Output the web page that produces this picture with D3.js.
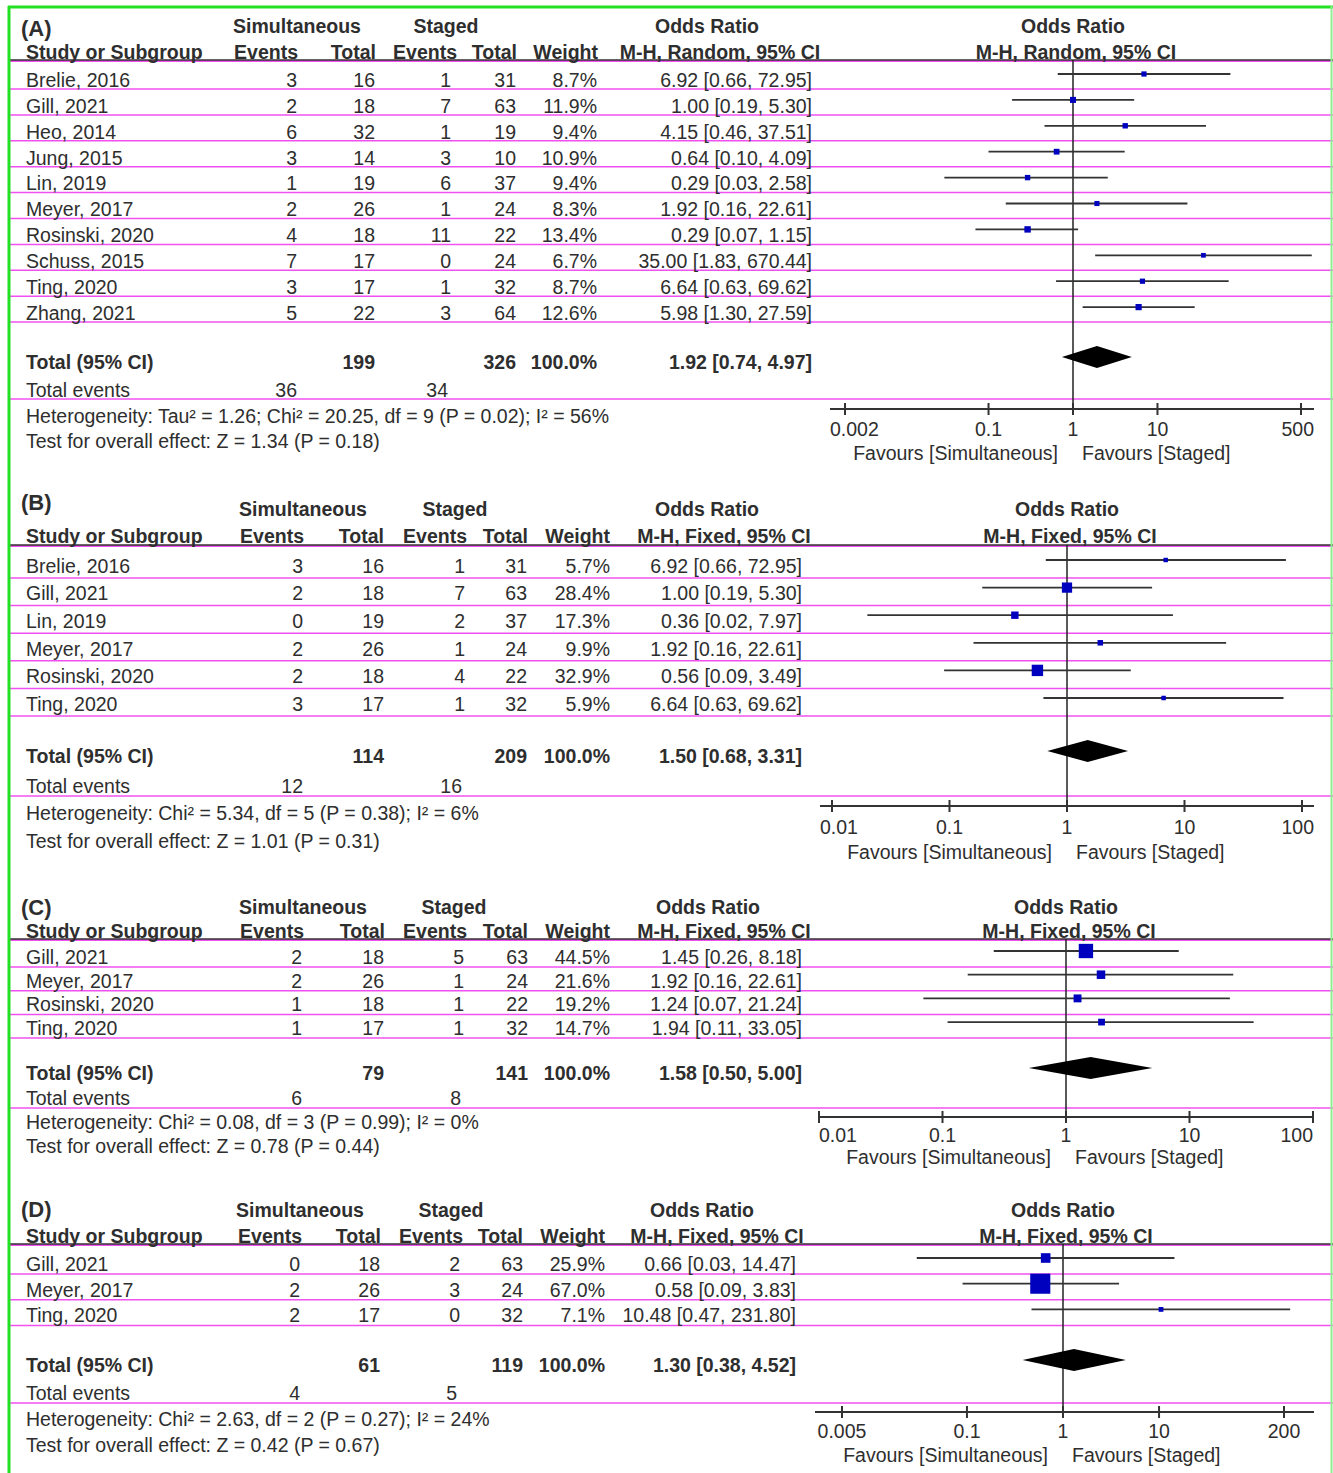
<!DOCTYPE html>
<html>
<head>
<meta charset="utf-8">
<script src="https://cdn.jsdelivr.net/npm/d3@7"></script>
<style>
  body { margin: 0; background: #fff; }
  svg { display: block; font-family: "Liberation Sans", Arial, sans-serif; }
</style>
</head>
<body>
<svg id="chart" width="1333" height="1473"></svg>
<script>
// study rows: [study, sim events, sim total, staged events, staged total, weight %, OR, lower, upper]
const rowsA = [
    ["Brelie, 2016", 3, 16, 1, 31, 8.7, 6.92, 0.66, 72.95],
    ["Gill, 2021", 2, 18, 7, 63, 11.9, 1.00, 0.19, 5.30],
    ["Heo, 2014", 6, 32, 1, 19, 9.4, 4.15, 0.46, 37.51],
    ["Jung, 2015", 3, 14, 3, 10, 10.9, 0.64, 0.10, 4.09],
    ["Lin, 2019", 1, 19, 6, 37, 9.4, 0.29, 0.03, 2.58],
    ["Meyer, 2017", 2, 26, 1, 24, 8.3, 1.92, 0.16, 22.61],
    ["Rosinski, 2020", 4, 18, 11, 22, 13.4, 0.29, 0.07, 1.15],
    ["Schuss, 2015", 7, 17, 0, 24, 6.7, 35.00, 1.83, 670.44],
    ["Ting, 2020", 3, 17, 1, 32, 8.7, 6.64, 0.63, 69.62],
    ["Zhang, 2021", 5, 22, 3, 64, 12.6, 5.98, 1.30, 27.59]
];
const rowsB = [
    ["Brelie, 2016", 3, 16, 1, 31, 5.7, 6.92, 0.66, 72.95],
    ["Gill, 2021", 2, 18, 7, 63, 28.4, 1.00, 0.19, 5.30],
    ["Lin, 2019", 0, 19, 2, 37, 17.3, 0.36, 0.02, 7.97],
    ["Meyer, 2017", 2, 26, 1, 24, 9.9, 1.92, 0.16, 22.61],
    ["Rosinski, 2020", 2, 18, 4, 22, 32.9, 0.56, 0.09, 3.49],
    ["Ting, 2020", 3, 17, 1, 32, 5.9, 6.64, 0.63, 69.62]
];
const rowsC = [
    ["Gill, 2021", 2, 18, 5, 63, 44.5, 1.45, 0.26, 8.18],
    ["Meyer, 2017", 2, 26, 1, 24, 21.6, 1.92, 0.16, 22.61],
    ["Rosinski, 2020", 1, 18, 1, 22, 19.2, 1.24, 0.07, 21.24],
    ["Ting, 2020", 1, 17, 1, 32, 14.7, 1.94, 0.11, 33.05]
];
const rowsD = [
    ["Gill, 2021", 0, 18, 2, 63, 25.9, 0.66, 0.03, 14.47],
    ["Meyer, 2017", 2, 26, 3, 24, 67.0, 0.58, 0.09, 3.83],
    ["Ting, 2020", 2, 17, 0, 32, 7.1, 10.48, 0.47, 231.80]
];

// totals: [sim total, staged total, OR, lower, upper, sim events, staged events]
const totalsA = [199, 326, 1.92, 0.74, 4.97, 36, 34];
const totalsB = [114, 209, 1.50, 0.68, 3.31, 12, 16];
const totalsC = [79, 141, 1.58, 0.50, 5.00, 6, 8];
const totalsD = [61, 119, 1.30, 0.38, 4.52, 4, 5];

const ticksA = [0.002, 0.1, 1, 10, 500];
const ticksB = [0.01, 0.1, 1, 10, 100];
const ticksC = [0.01, 0.1, 1, 10, 100];
const ticksD = [0.005, 0.1, 1, 10, 200];

const panelLabels = ["(A)", "(B)", "(C)", "(D)"];
const methods = ["M-H, Random, 95% CI", "M-H, Fixed, 95% CI", "M-H, Fixed, 95% CI", "M-H, Fixed, 95% CI"];
const hetTexts = [
    "Heterogeneity: Tau\u00b2 = 1.26; Chi\u00b2 = 20.25, df = 9 (P = 0.02); I\u00b2 = 56%",
    "Heterogeneity: Chi\u00b2 = 5.34, df = 5 (P = 0.38); I\u00b2 = 6%",
    "Heterogeneity: Chi\u00b2 = 0.08, df = 3 (P = 0.99); I\u00b2 = 0%",
    "Heterogeneity: Chi\u00b2 = 2.63, df = 2 (P = 0.27); I\u00b2 = 24%"
];
const testTexts = [
    "Test for overall effect: Z = 1.34 (P = 0.18)",
    "Test for overall effect: Z = 1.01 (P = 0.31)",
    "Test for overall effect: Z = 0.78 (P = 0.44)",
    "Test for overall effect: Z = 0.42 (P = 0.67)"
];

// layout of each panel (pixels)
const layouts = [
    { labelY: 28, headTop: 26, headBot: 52, headLine: 60, row0: 80, pitch: 25.9, lineOff: 9,
      total: 362, events: 390, evLine: 399, het: 416, test: 441,
      axisY: 409, tickY: 429, favY: 453, xRange: [845, 1301], axisLine: [830, 1314],
      cols: [297, 375, 451, 516, 597, 812],
      heads: [298, 376, 457, 517, 598], simC: 297, stgC: 446, orC: 707, mhC: 720 },
    { labelY: 502, headTop: 509, headBot: 536, headLine: 545, row0: 566, pitch: 27.6, lineOff: 12,
      total: 756, events: 786, evLine: 796, het: 813, test: 841,
      axisY: 806, tickY: 827, favY: 852, xRange: [832, 1302], axisLine: [820, 1314],
      cols: [303, 384, 465, 527, 610, 802],
      heads: [304, 384, 467, 528, 610], simC: 303, stgC: 455, orC: 707, mhC: 724 },
    { labelY: 907, headTop: 907, headBot: 931, headLine: 939, row0: 957, pitch: 23.7, lineOff: 10,
      total: 1073, events: 1098, evLine: 1108, het: 1122, test: 1146,
      axisY: 1117, tickY: 1135, favY: 1157, xRange: [819, 1313], axisLine: [819, 1313],
      cols: [302, 384, 464, 528, 610, 802],
      heads: [304, 385, 467, 528, 610], simC: 303, stgC: 454, orC: 708, mhC: 724 },
    { labelY: 1209, headTop: 1210, headBot: 1236, headLine: 1244, row0: 1264, pitch: 25.7, lineOff: 10,
      total: 1365, events: 1393, evLine: 1403, het: 1419, test: 1445,
      axisY: 1412, tickY: 1431, favY: 1455, xRange: [842, 1284], axisLine: [815, 1314],
      cols: [300, 380, 460, 523, 605, 796],
      heads: [302, 381, 463, 523, 605], simC: 300, stgC: 451, orC: 702, mhC: 717 }
];

const allRows = [rowsA, rowsB, rowsC, rowsD];
const allTotals = [totalsA, totalsB, totalsC, totalsD];
const allTicks = [ticksA, ticksB, ticksC, ticksD];

const svg = d3.select("#chart");
const textCol = "#2e2e2e";
const pink = "#f050f0";
const fs = 19.5;
const f2 = d3.format(".2f");
const f1 = d3.format(".1f");
const sizeScale = d3.scaleLinear().domain([0, 100]).range([3, 28.5]);

svg.append("rect").attr("width", 1333).attr("height", 1473).attr("fill", "#fff");

function txt(g, x, y, s, anchor, bold, size) {
    return g.append("text")
        .attr("x", x).attr("y", y)
        .attr("dy", "0.35em")
        .attr("text-anchor", anchor || "start")
        .attr("font-size", (size || fs) + "px")
        .attr("font-weight", bold ? "bold" : "normal")
        .attr("fill", textCol)
        .text(s);
}

function hline(g, y, color, w) {
    g.append("line").attr("x1", 10).attr("x2", 1333).attr("y1", y).attr("y2", y)
        .attr("stroke", color).attr("stroke-width", w);
}

function drawPanel(p) {
    const L = layouts[p];
    const rows = allRows[p];
    const tot = allTotals[p];
    const ticks = allTicks[p];
    const g = svg.append("g");

    const x = d3.scaleLog().domain([ticks[0], ticks[ticks.length - 1]]).range(L.xRange);
    const y = d3.scaleLinear().domain([0, 1]).range([L.row0, L.row0 + L.pitch]);
    const x1 = x(1);

    // row separators
    rows.forEach((r, i) => hline(g, y(i) + L.lineOff, pink, 1.5));
    hline(g, L.evLine, pink, 1.5);
    hline(g, L.headLine + 1, pink, 2);
    hline(g, L.headLine, "#333", 1.5);

    // headers
    txt(g, 21, L.labelY, panelLabels[p], "start", true, 22);
    txt(g, L.simC, L.headTop, "Simultaneous", "middle", true);
    txt(g, L.stgC, L.headTop, "Staged", "middle", true);
    txt(g, L.orC, L.headTop, "Odds Ratio", "middle", true);
    txt(g, x1, L.headTop, "Odds Ratio", "middle", true);
    txt(g, 26, L.headBot, "Study or Subgroup", "start", true);
    ["Events", "Total", "Events", "Total", "Weight"].forEach((h, k) =>
        txt(g, L.heads[k], L.headBot, h, "end", true));
    txt(g, L.mhC, L.headBot, methods[p], "middle", true);
    txt(g, x1 + 3, L.headBot, methods[p], "middle", true);

    // study rows
    rows.forEach((r, i) => {
        const yy = y(i);
        txt(g, 26, yy, r[0]);
        [r[1], r[2], r[3], r[4]].forEach((v, k) => txt(g, L.cols[k], yy, v, "end"));
        txt(g, L.cols[4], yy, f1(r[5]) + "%", "end");
        txt(g, L.cols[5], yy, `${f2(r[6])} [${f2(r[7])}, ${f2(r[8])}]`, "end");
    });

    // totals
    txt(g, 26, L.total, "Total (95% CI)", "start", true);
    txt(g, L.cols[1], L.total, tot[0], "end", true);
    txt(g, L.cols[3], L.total, tot[1], "end", true);
    txt(g, L.cols[4], L.total, "100.0%", "end", true);
    txt(g, L.cols[5], L.total, `${f2(tot[2])} [${f2(tot[3])}, ${f2(tot[4])}]`, "end", true);
    txt(g, 26, L.events, "Total events");
    txt(g, L.cols[0], L.events, tot[5], "end");
    txt(g, L.cols[2] - 3, L.events, tot[6], "end");
    txt(g, 26, L.het, hetTexts[p]);
    txt(g, 26, L.test, testTexts[p]);

    // line of no effect
    g.append("line").attr("x1", x1).attr("x2", x1)
        .attr("y1", L.headLine).attr("y2", L.axisY)
        .attr("stroke", "#222").attr("stroke-width", 1.5);

    // CIs and squares
    const marks = g.selectAll(".study").data(rows).enter().append("g");
    marks.append("line")
        .attr("x1", d => x(d[7])).attr("x2", d => x(d[8]))
        .attr("y1", (d, i) => y(i) - 6).attr("y2", (d, i) => y(i) - 6)
        .attr("stroke", "#333").attr("stroke-width", 1.8);
    marks.append("rect")
        .attr("x", d => x(d[6]) - sizeScale(d[5]) / 2)
        .attr("y", (d, i) => y(i) - 6 - sizeScale(d[5]) / 2)
        .attr("width", d => sizeScale(d[5]))
        .attr("height", d => sizeScale(d[5]))
        .attr("fill", "#0000bf");

    // pooled diamond
    const dy = L.total - 5;
    g.append("path")
        .attr("d", `M${x(tot[3])},${dy} L${x(tot[2])},${dy - 11} L${x(tot[4])},${dy} L${x(tot[2])},${dy + 11} Z`)
        .attr("fill", "#000");

    // axis
    g.append("line").attr("x1", L.axisLine[0]).attr("x2", L.axisLine[1])
        .attr("y1", L.axisY).attr("y2", L.axisY)
        .attr("stroke", "#333").attr("stroke-width", 2);
    ticks.forEach((t, k) => {
        g.append("line").attr("x1", x(t)).attr("x2", x(t))
            .attr("y1", L.axisY - 6).attr("y2", L.axisY + 6)
            .attr("stroke", "#333").attr("stroke-width", 2);
        const lab = txt(g, x(t), L.tickY, String(t), "middle");
        const w = lab.node().getComputedTextLength();
        if (x(t) - w / 2 < L.axisLine[0]) lab.attr("x", L.axisLine[0] + w / 2);
        if (x(t) + w / 2 > L.axisLine[1]) lab.attr("x", L.axisLine[1] - w / 2);
    });
    txt(g, x1 - 15, L.favY, "Favours [Simultaneous]", "end");
    txt(g, x1 + 9, L.favY, "Favours [Staged]", "start");
}

layouts.forEach((L, p) => drawPanel(p));

// frame
svg.append("line").attr("x1", 9).attr("x2", 9).attr("y1", 6).attr("y2", 1473)
    .attr("stroke", "#22e022").attr("stroke-width", 3);
svg.append("line").attr("x1", 8).attr("x2", 1333).attr("y1", 7).attr("y2", 7)
    .attr("stroke", "#22e022").attr("stroke-width", 3);
svg.append("line").attr("x1", 1331.5).attr("x2", 1331.5).attr("y1", 6).attr("y2", 1473)
    .attr("stroke", "#90ee90").attr("stroke-width", 2);
</script>
</body>
</html>
